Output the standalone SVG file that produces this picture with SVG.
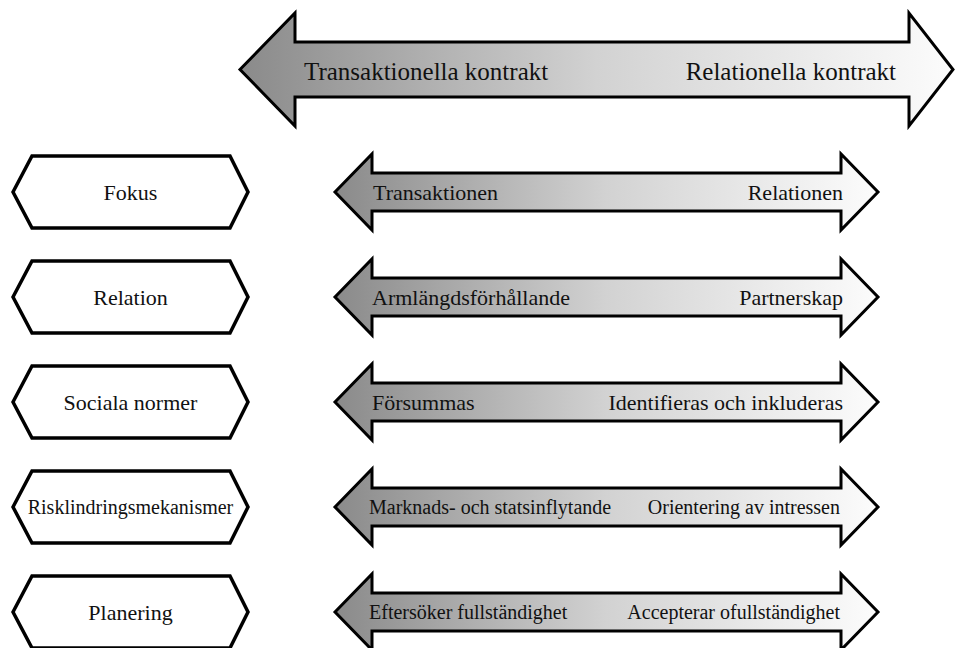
<svg xmlns="http://www.w3.org/2000/svg" width="955" height="648" viewBox="0 0 955 648">
<defs>
<linearGradient id="g" x1="0" y1="0" x2="1" y2="0">
<stop offset="0" stop-color="#8a8a8a"/>
<stop offset="0.5" stop-color="#d2d2d2"/>
<stop offset="1" stop-color="#fcfcfc"/>
</linearGradient>
</defs>
<style>
.arr{fill:url(#g);stroke:#000;stroke-width:3;stroke-linejoin:miter}
.hex{fill:#fff;stroke:#000;stroke-width:3.5;stroke-linejoin:miter}
text{font-family:"Liberation Serif","Times New Roman",serif;fill:#111}
.big{font-size:25px}
.s{font-size:22px}
.t{font-size:20px}
.hl{font-size:22px;text-anchor:middle}
.e{text-anchor:end}
</style>
<rect width="955" height="648" fill="#fff"/>
<g id="main-arrow">
<path class="arr" d="M240,69.5 L295,13 L295,42 L909,42 L909,13 L953,69.5 L909,126 L909,97 L295,97 L295,126 Z"/>
<text class="big" x="304" y="80">Transaktionella kontrakt</text>
<text class="big e" x="896" y="80">Relationella kontrakt</text>
</g>
<g id="hex-fokus">
<polygon class="hex" points="13,192 32,156 230,156 248,192 230,228 32,228"/>
<text class="hl" x="130.5" y="200">Fokus</text>
</g>
<g id="hex-relation">
<polygon class="hex" points="13,297 32,261 230,261 248,297 230,333 32,333"/>
<text class="hl" x="130.5" y="305">Relation</text>
</g>
<g id="hex-sociala">
<polygon class="hex" points="13,402 32,366 230,366 248,402 230,438 32,438"/>
<text class="hl" x="130.5" y="410">Sociala normer</text>
</g>
<g id="hex-risk">
<polygon class="hex" points="13,507 32,471 230,471 248,507 230,543 32,543"/>
<text class="hl" x="130.5" y="514" style="font-size:20px">Risklindringsmekanismer</text>
</g>
<g id="hex-planering">
<polygon class="hex" points="13,612 32,576 230,576 248,612 230,648 32,648"/>
<text class="hl" x="130.5" y="620">Planering</text>
</g>
<g id="arrow-fokus">
<path class="arr" d="M335,192 L372,154 L372,173 L841,173 L841,154 L878,192 L841,230 L841,211 L372,211 L372,230 Z"/>
<text class="s" x="373" y="200">Transaktionen</text>
<text class="s e" x="843" y="200">Relationen</text>
</g>
<g id="arrow-relation">
<path class="arr" d="M335,297 L372,259 L372,278 L841,278 L841,259 L878,297 L841,335 L841,316 L372,316 L372,335 Z"/>
<text class="s" x="372" y="305">Armlängdsförhållande</text>
<text class="s e" x="843" y="305">Partnerskap</text>
</g>
<g id="arrow-sociala">
<path class="arr" d="M335,402 L372,364 L372,383 L841,383 L841,364 L878,402 L841,440 L841,421 L372,421 L372,440 Z"/>
<text class="s" x="372" y="410">Försummas</text>
<text class="s e" x="843" y="410">Identifieras och inkluderas</text>
</g>
<g id="arrow-risk">
<path class="arr" d="M335,507 L372,469 L372,488 L841,488 L841,469 L878,507 L841,545 L841,526 L372,526 L372,545 Z"/>
<text class="t" x="369" y="514">Marknads- och statsinflytande</text>
<text class="t e" x="840" y="514">Orientering av intressen</text>
</g>
<g id="arrow-planering">
<path class="arr" d="M335,612 L372,574 L372,593 L841,593 L841,574 L878,612 L841,650 L841,631 L372,631 L372,650 Z"/>
<text class="t" x="369" y="619">Eftersöker fullständighet</text>
<text class="t e" x="840" y="619">Accepterar ofullständighet</text>
</g>
<g id="connectors"/>
</svg>
